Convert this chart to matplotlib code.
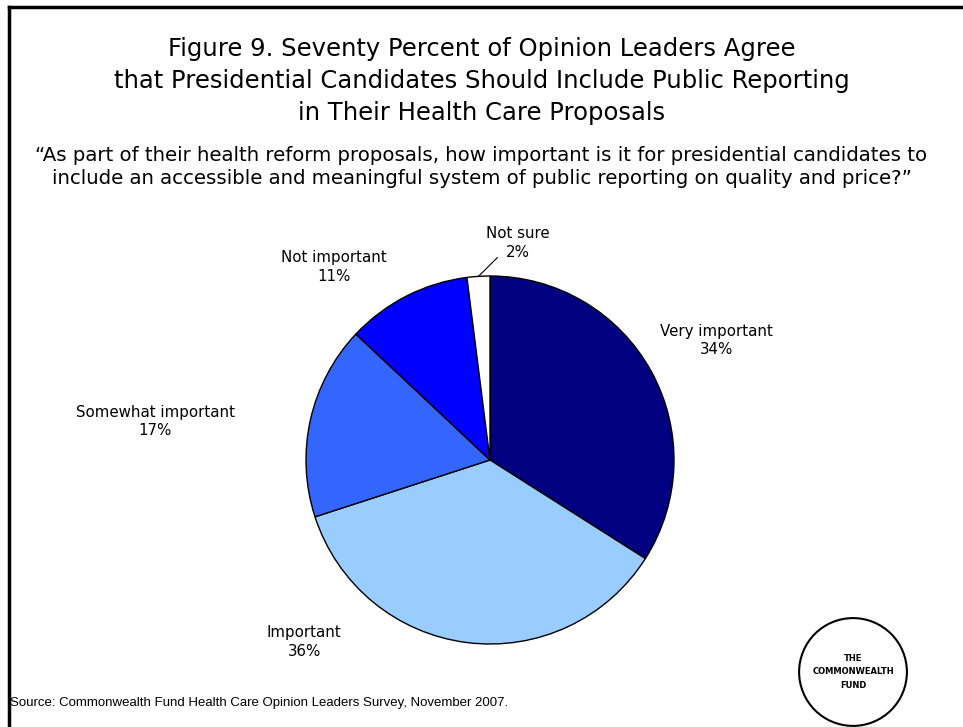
import numpy as np
import matplotlib
matplotlib.use("Agg")
import matplotlib.pyplot as plt
from matplotlib.patches import Circle

# --- data ---
labels = ["Very important", "Important", "Somewhat important", "Not important", "Not sure"]
values = [34, 36, 17, 11, 2]
colors = ["#000080", "#99CCFF", "#3366FF", "#0000FF", "#FFFFFF"]
# label spots in pie-radius units (relative to the centre)
labelPos = [(1.23, 0.65), (-1.01, -0.99), (-1.82, 0.21), (-0.85, 1.05), (0.15, 1.18)]

title = ("Figure 9. Seventy Percent of Opinion Leaders Agree\n"
         "that Presidential Candidates Should Include Public Reporting\n"
         "in Their Health Care Proposals")
question = ("\u201cAs part of their health reform proposals, how important is it for presidential candidates to\n"
            "include an accessible and meaningful system of public reporting on quality and price?\u201d")
source = "Source: Commonwealth Fund Health Care Opinion Leaders Survey, November 2007."

W, H = 963, 727
fig = plt.figure(figsize=(W / 100, H / 100), dpi=100)

# frame lines on the left and top only
fig.add_artist(plt.Line2D([9 / W, 9 / W], [0, 1 - 7 / H], color="black", lw=2.5))
fig.add_artist(plt.Line2D([9 / W, 1], [1 - 7 / H, 1 - 7 / H], color="black", lw=2.5))

fig.text(0.5, 1 - 81 / H, title, ha="center", va="center", fontsize=17.5,
         linespacing=1.42, family="DejaVu Sans")
fig.text(0.5, 1 - 167 / H, question, ha="center", va="center", fontsize=14.2,
         linespacing=1.22, family="DejaVu Sans")

# pie axes: centre (490, 460), radius 184 px
cx, cy, r = 490, 460, 184
ax = fig.add_axes([(cx - r) / W, (H - cy - r) / H, 2 * r / W, 2 * r / H])
ax.pie(values, colors=colors, startangle=90, counterclock=False,
       wedgeprops=dict(edgecolor="black", linewidth=1))
ax.set_xlim(-1, 1)
ax.set_ylim(-1, 1)
ax.set_aspect("equal")
ax.axis("off")

for lab, v, (x, y) in zip(labels, values, labelPos):
    ax.text(x, y, f"{lab}\n{v}%", ha="center", va="center", fontsize=10.8,
            linespacing=1.3, family="DejaVu Sans")

# leader line for "Not sure"
a = np.deg2rad(90 + values[-1] * 3.6 / 2)
ax.plot([np.cos(a), 0.04], [np.sin(a), 1.1], color="black", lw=0.8, clip_on=False)

fig.text(10 / W, 1 - 703 / H, source, ha="left", va="center", fontsize=9.5,
         family="Liberation Sans")

# logo
lx, ly, lr = 853, 672, 55
lax = fig.add_axes([(lx - lr) / W, (H - ly - lr) / H, 2 * lr / W, 2 * lr / H])
lax.add_patch(Circle((0, 0), 0.98, fill=False, edgecolor="black", lw=1.5))
lax.text(0, 0, "THE\nCOMMONWEALTH\nFUND", ha="center", va="center", fontsize=6,
         fontweight="bold", linespacing=1.7, family="DejaVu Sans")
lax.set_xlim(-1, 1)
lax.set_ylim(-1, 1)
lax.set_aspect("equal")
lax.axis("off")

fig.savefig("out.png", dpi=100)
